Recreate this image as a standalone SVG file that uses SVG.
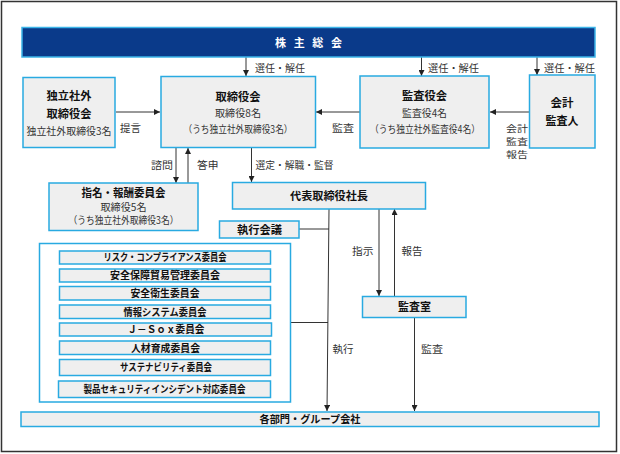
<svg xmlns="http://www.w3.org/2000/svg" width="620" height="454" viewBox="0 0 620 454">
<defs>
<marker id="ah" viewBox="0 0 10 10" refX="10" refY="5" markerWidth="6" markerHeight="6" orient="auto" markerUnits="userSpaceOnUse">
<path d="M0,0 L10,5 L0,10 z" fill="#222"/>
</marker>
<style>
text{font-family:"Meiryo UI","Noto Sans CJK JP","Noto Sans",sans-serif;fill:#333;font-size:10px}
.b{font-weight:bold;fill:#111;font-size:11px}
.c{font-weight:bold;fill:#111;font-size:10px}
.s{font-size:9px}
.m{text-anchor:middle}
.box{fill:#efefef;stroke:#29aae1;stroke-width:1.5}
.ln{stroke:#333;stroke-width:1;fill:none}
.ar{stroke:#333;stroke-width:1;fill:none;marker-end:url(#ah)}
</style>
</defs>
<rect x="0" y="0" width="620" height="454" fill="#fff"/>
<rect x="1.5" y="1.5" width="615" height="450" fill="none" stroke="#333" stroke-width="1.5"/>

<g id="connectors">
<path class="ar" d="M246,57 V76"/>
<path class="ar" d="M421.5,57 V76"/>
<path class="ar" d="M537,57 V75"/>
<path class="ar" d="M116,112 H160"/>
<path class="ar" d="M360,112 H316"/>
<path class="ar" d="M529,112 H490"/>
<path class="ar" d="M176,148 V183"/>
<path class="ar" d="M188,183 V148"/>
<path class="ar" d="M251.5,148 V182"/>
<path class="ln" d="M299,229 H329"/>
<path class="ln" d="M291,322.5 H328"/>
<path class="ar" d="M329,209 L327,411"/>
<path class="ar" d="M379,209 V296"/>
<path class="ar" d="M394.5,296 V209"/>
<path class="ar" d="M414.5,318 V411"/>
<text x="255" y="71.5" textLength="50" lengthAdjust="spacingAndGlyphs">選任・解任</text>
<text x="428" y="71.5" textLength="51" lengthAdjust="spacingAndGlyphs">選任・解任</text>
<text x="544" y="71.5" textLength="51" lengthAdjust="spacingAndGlyphs">選任・解任</text>
<text x="120" y="132.3" textLength="21" lengthAdjust="spacingAndGlyphs">提言</text>
<text x="332" y="132.3" textLength="22" lengthAdjust="spacingAndGlyphs">監査</text>
<text class="s" x="506" y="131.5" textLength="22" lengthAdjust="spacingAndGlyphs">会計</text>
<text class="s" x="506" y="144.5" textLength="22" lengthAdjust="spacingAndGlyphs">監査</text>
<text class="s" x="506" y="157.5" textLength="22" lengthAdjust="spacingAndGlyphs">報告</text>
<text x="151" y="169" textLength="22" lengthAdjust="spacingAndGlyphs">諮問</text>
<text x="197" y="169" textLength="21.5" lengthAdjust="spacingAndGlyphs">答申</text>
<text x="255.5" y="169" textLength="78" lengthAdjust="spacingAndGlyphs">選定・解職・監督</text>
<text x="352" y="254.5" textLength="21.5" lengthAdjust="spacingAndGlyphs">指示</text>
<text x="401.5" y="254.5" textLength="21" lengthAdjust="spacingAndGlyphs">報告</text>
<text x="332.5" y="353" textLength="21" lengthAdjust="spacingAndGlyphs">執行</text>
<text x="421" y="353" textLength="22" lengthAdjust="spacingAndGlyphs">監査</text>
</g>

<g id="shareholders">
<rect x="22" y="27.5" width="573" height="29.5" fill="#0a3a8a" stroke="#3bb4e8" stroke-width="1.5"/>
<text class="b m" x="308.5" y="47" style="fill:#fff" textLength="67">株 主 総 会</text>
</g>

<g id="indep">
<rect class="box" x="23" y="77.5" width="92" height="70"/>
<text class="b m" x="69" y="100.3" textLength="45" lengthAdjust="spacingAndGlyphs">独立社外</text>
<text class="b m" x="69" y="118" textLength="45" lengthAdjust="spacingAndGlyphs">取締役会</text>
<text class="m" x="69" y="134.5" textLength="85" lengthAdjust="spacingAndGlyphs">独立社外取締役3名</text>
</g>

<g id="board">
<rect class="box" x="161" y="76.5" width="154.5" height="71"/>
<text class="b m" x="238" y="101" textLength="45" lengthAdjust="spacingAndGlyphs">取締役会</text>
<text class="m" x="238" y="117.2" textLength="46" lengthAdjust="spacingAndGlyphs">取締役8名</text>
<text class="m" x="238" y="133.2" textLength="109" lengthAdjust="spacingAndGlyphs">（うち独立社外取締役3名）</text>
</g>

<g id="audit-board">
<rect class="box" x="360" y="76" width="129" height="72"/>
<text class="b m" x="424.5" y="100" textLength="45" lengthAdjust="spacingAndGlyphs">監査役会</text>
<text class="m" x="424.5" y="117.2" textLength="45" lengthAdjust="spacingAndGlyphs">監査役4名</text>
<text class="m" x="425" y="133" textLength="110" lengthAdjust="spacingAndGlyphs">（うち独立社外監査役4名）</text>
</g>

<g id="accountant">
<rect class="box" x="529.5" y="75" width="65.5" height="73"/>
<text class="b m" x="562" y="107" textLength="23" lengthAdjust="spacingAndGlyphs">会計</text>
<text class="b m" x="562" y="125" textLength="33" lengthAdjust="spacingAndGlyphs">監査人</text>
</g>

<g id="nomination">
<rect class="box" x="49" y="183" width="149" height="47.5"/>
<text class="b m" x="123.5" y="197" textLength="84" lengthAdjust="spacingAndGlyphs">指名・報酬委員会</text>
<text class="m" x="123.5" y="210.5" textLength="46" lengthAdjust="spacingAndGlyphs">取締役5名</text>
<text class="m" x="123.5" y="224" textLength="110" lengthAdjust="spacingAndGlyphs">（うち独立社外取締役3名）</text>
</g>

<g id="president">
<rect class="box" x="232.5" y="182.5" width="193" height="26.5"/>
<text class="b m" x="329" y="200.3" textLength="78" lengthAdjust="spacingAndGlyphs">代表取締役社長</text>
</g>

<g id="exec">
<rect class="box" x="219.5" y="221" width="79.5" height="17"/>
<text class="b m" x="259.5" y="234.3" textLength="45" lengthAdjust="spacingAndGlyphs">執行会議</text>
</g>

<g id="committees">
<rect x="39.5" y="243.5" width="251" height="158.5" fill="#fff" stroke="#29aae1" stroke-width="1.5"/>
<rect class="box" x="59.5" y="251" width="211" height="13"/>
<text class="c m" x="165" y="261.2" textLength="123" lengthAdjust="spacingAndGlyphs">リスク・コンプライアンス委員会</text>
<rect class="box" x="59.5" y="269" width="211" height="13"/>
<text class="c m" x="165" y="279.2" textLength="110" lengthAdjust="spacingAndGlyphs">安全保障貿易管理委員会</text>
<rect class="box" x="59.5" y="286.5" width="211" height="13.5"/>
<text class="c m" x="165" y="297" textLength="69" lengthAdjust="spacingAndGlyphs">安全衛生委員会</text>
<rect class="box" x="59.5" y="305" width="211" height="13.5"/>
<text class="c m" x="165" y="315.5" textLength="83" lengthAdjust="spacingAndGlyphs">情報システム委員会</text>
<rect class="box" x="59.5" y="323" width="212" height="13"/>
<text class="c m" x="166" y="333.2" textLength="77" lengthAdjust="spacingAndGlyphs">Ｊ－Ｓｏｘ委員会</text>
<rect class="box" x="59.5" y="341" width="211" height="13.5"/>
<text class="c m" x="165.5" y="351.5" textLength="69" lengthAdjust="spacingAndGlyphs">人材育成委員会</text>
<rect class="box" x="59.5" y="359.5" width="211" height="16"/>
<text class="c m" x="166" y="371" textLength="92" lengthAdjust="spacingAndGlyphs">サステナビリティ委員会</text>
<rect class="box" x="58.5" y="381" width="212" height="16.5"/>
<text class="c m" x="164.5" y="393" textLength="162" lengthAdjust="spacingAndGlyphs">製品セキュリティインシデント対応委員会</text>
</g>

<g id="audit-office">
<rect class="box" x="362.5" y="296.5" width="103.5" height="21"/>
<text class="b m" x="414.5" y="311" textLength="33" lengthAdjust="spacingAndGlyphs">監査室</text>
</g>

<g id="departments">
<rect class="box" x="21" y="412" width="578" height="14.5"/>
<text class="c m" x="310" y="423.2" textLength="101" lengthAdjust="spacingAndGlyphs" style="font-size:10.5px">各部門・グループ会社</text>
</g>
</svg>
